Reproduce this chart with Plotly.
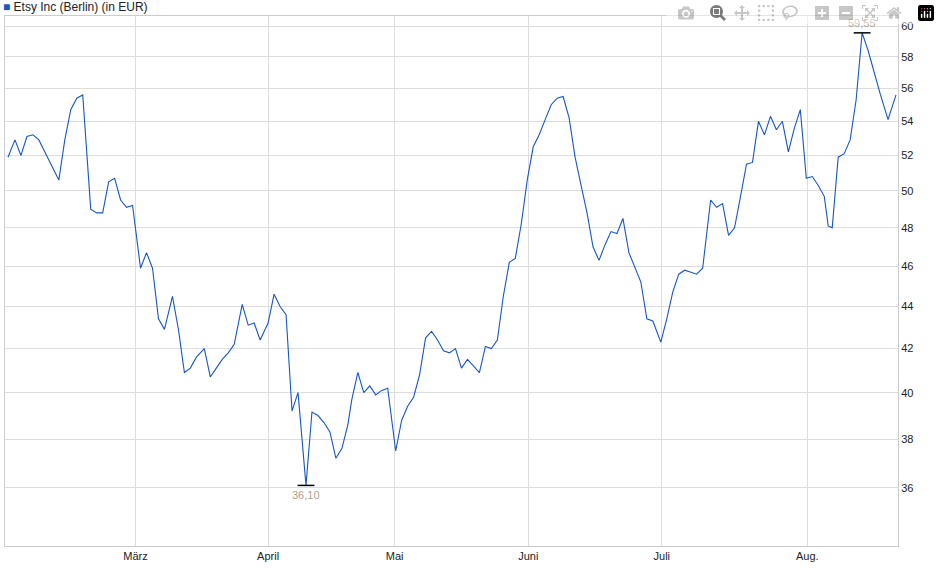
import math
import plotly.graph_objects as go

# position along time axis (trading-day scale) and price in EUR
t = [5,12,18,24,30,36,42,50,56,62,68,74,80,88,94,100,106,112,118,124,130,138,144,150,156,162,170,176,182,188,194,202,208,214,220,226,232,240,246,252,258,266,272,278,284,290,296,304,310,316,322,328,334,340,346,350,356,362,368,374,380,386,394,400,406,412,418,424,430,436,442,448,454,460,466,472,478,484,490,496,502,508,514,520,526,532,538,544,550,556,562,568,574,580,586,592,598,604,610,616,622,628,634,640,646,652,660,666,672,678,684,690,696,702,710,716,722,728,734,740,746,752,758,764,770,776,782,788,794,800,806,812,818,824,828,832,838,844,850,856,862,868,874,880,888,896]
price = [51.9,52.9,52.0,53.1,53.2,52.9,52.2,51.3,50.6,52.9,54.7,55.4,55.6,49.0,48.8,48.8,50.5,50.7,49.5,49.1,49.2,45.9,46.7,45.9,43.4,42.9,44.5,42.9,40.9,41.1,41.6,42.0,40.7,41.1,41.5,41.8,42.2,44.1,43.1,43.2,42.4,43.2,44.6,44.0,43.6,39.2,40.0,36.1,39.15,39.0,38.7,38.3,37.2,37.6,38.6,39.7,40.9,40.0,40.3,39.9,40.1,40.2,37.5,38.8,39.4,39.8,40.8,42.5,42.8,42.4,41.9,41.8,42.0,41.1,41.5,41.2,40.9,42.1,42.0,42.4,44.5,46.2,46.4,48.2,50.6,52.5,53.2,54.1,55.0,55.4,55.5,54.2,51.9,50.3,48.8,47.0,46.3,47.1,47.8,47.7,48.5,46.7,45.9,45.2,43.4,43.3,42.3,43.4,44.7,45.6,45.8,45.7,45.6,45.9,49.5,49.1,49.3,47.6,48.0,49.7,51.5,51.6,54.0,53.2,54.3,53.5,54.0,52.2,53.6,54.7,50.7,50.8,50.3,49.7,48.1,48.0,51.9,52.1,52.9,55.3,59.55,58.4,57.0,55.7,54.1,55.6]
month_pos = [133, 266, 393, 527, 661, 807]
month_labels = ["März", "April", "Mai", "Juni", "Juli", "Aug."]
y_ticks = [36, 38, 40, 42, 44, 46, 48, 50, 52, 54, 56, 58, 60]

imax = price.index(max(price))
imin = price.index(min(price))

fig = go.Figure()
fig.add_trace(go.Scatter(x=t, y=price, mode="lines",
                         line=dict(color="#1756c8", width=1.1), showlegend=False))
fig.add_trace(go.Scatter(x=[t[imax], t[imin]], y=[price[imax], price[imin]], mode="markers",
                         marker=dict(symbol="line-ew", size=12, line=dict(color="black", width=1.5)),
                         showlegend=False))
fig.add_annotation(x=t[imax], y=math.log10(price[imax]), text="59,55", showarrow=False,
                   yshift=10, font=dict(color="#b0a090", size=11, family="Liberation Sans"))
fig.add_annotation(x=t[imin], y=math.log10(price[imin]), text="36,10", showarrow=False,
                   yshift=-10, font=dict(color="#b0a090", size=11, family="Liberation Sans"))
fig.add_annotation(xref="paper", yref="paper", x=0, y=1, xanchor="left", yanchor="bottom",
                   text="<span style='color:#1756c8'>■</span> Etsy Inc (Berlin) (in EUR)",
                   showarrow=False, yshift=0, xshift=-4,
                   font=dict(color="#222", size=12, family="Liberation Sans"))

fig.update_layout(
    width=940, height=579, margin=dict(l=5, r=42, t=16, b=33),
    plot_bgcolor="white", paper_bgcolor="white",
    font=dict(family="Liberation Sans", size=11, color="#222"),
    xaxis=dict(range=[2, 898], tickvals=month_pos, ticktext=month_labels,
               showgrid=True, gridcolor="#dddddd", zeroline=False,
               showline=True, linecolor="#cccccc", mirror=True, ticks=""),
    yaxis=dict(type="log", range=[math.log10(33.76), math.log10(60.67)], side="right",
               tickvals=y_ticks, ticktext=[str(v) for v in y_ticks],
               showgrid=True, gridcolor="#dddddd", zeroline=False,
               showline=True, linecolor="#cccccc", mirror=True, ticks=""),
)
fig.write_html("out.html", post_script="document.body.style.margin='0';")
